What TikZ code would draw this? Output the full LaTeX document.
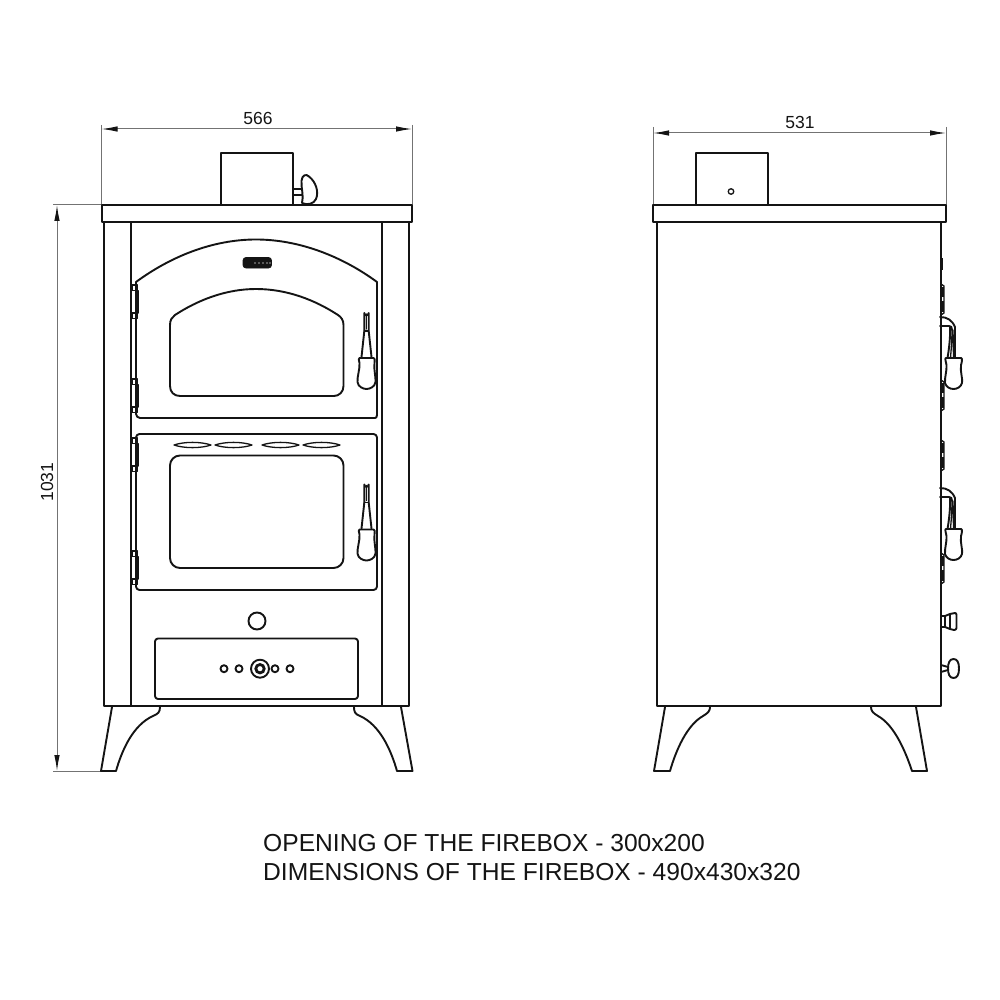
\documentclass[tikz,border=0pt]{standalone}
\usepackage{fontspec}
\setmainfont{Liberation Sans}
\usetikzlibrary{arrows.meta}
\definecolor{ink}{gray}{0.08}
\definecolor{dimc}{gray}{0.45}
\tikzset{
  ol/.style={draw=ink,line width=1.9pt,line join=round,line cap=round},
  thin ol/.style={draw=ink,line width=1.3pt,line join=round,line cap=round},
  dimline/.style={draw=dimc,line width=1pt},
  dimarrow/.style={draw=dimc,line width=1pt,{Latex[length=16pt,width=5.5pt,color=ink]}-{Latex[length=16pt,width=5.5pt,color=ink]}},
  dimtext/.style={inner sep=0pt,text=ink,font=\fontsize{17.5}{19}\selectfont},
  notetext/.style={inner sep=0pt,anchor=base west,text=ink,font=\fontsize{24.6}{27}\selectfont},
}
% handle seen from the front, origin = tip
\newcommand{\fronthandle}[2]{%
\begin{scope}[shift={(#1,#2)}]
 \draw[ol] (-2.2,2) -- (-2.2,20) -- (-5,46) (2.2,2) -- (2.2,20) -- (5,46)
   (-2.2,2) arc[start angle=180,end angle=0,radius=2.2];
 \draw[thin ol] (-2.2,20) -- (2.2,20) (0,3) -- (0,18);
 \draw[ol] (-7,47) -- (7,47) .. controls (8.5,47) and (8.5,49) .. (8,52)
   .. controls (7,58) and (9.5,66) .. (9,71) .. controls (8.5,76) and (3,78) .. (0,78)
   .. controls (-3,78) and (-8.5,76) .. (-9,71) .. controls (-9.5,66) and (-6.5,58) .. (-7,52)
   .. controls (-7.5,49) and (-8.5,47) .. (-7,47) -- cycle;
\end{scope}}
% hinge on the front view, origin = top small square
\newcommand{\fronthinge}[2]{%
\begin{scope}[shift={(#1,#2)}]
 \draw[thin ol] (-3,-3) rectangle (2.5,2.5);
 \draw[thin ol] (-3.5,2.5) rectangle (3,25);
 \draw[thin ol] (-3,25) rectangle (2.5,30.5);
\end{scope}}
% hinge on the side view
\newcommand{\sidehinge}[2]{%
\begin{scope}[shift={(#1,#2)}]
 \draw[thin ol] (941,0) -- (944,2) -- (944,29) -- (941,31);
 \draw[line width=2.6pt,draw=ink] (942.5,3) -- (942.5,13) (942.5,17) -- (942.5,28);
\end{scope}}
% handle on the side view, origin = bracket root
\newcommand{\sidehandle}[2]{%
\begin{scope}[shift={(#1,#2)}]
 \draw[ol] (-1,0) .. controls (6,0) and (11,3) .. (14,10) -- (14,41);
 \draw[ol] (-1,9) -- (8,9) .. controls (10,9) and (11,10) .. (11,13);
 \draw[ol] (9,10) .. controls (9.5,20) and (8,32) .. (6.5,41);
 \draw[thin ol] (11,13) .. controls (11,24) and (10,34) .. (9.5,41) (12,13) -- (12.5,41);
 \draw[ol] (5,41) -- (20,41) .. controls (21.5,41) and (21,45) .. (20,48)
   .. controls (19,55) and (22,62) .. (21,66) .. controls (20,70) and (16,72) .. (12.5,72)
   .. controls (9,72) and (5,70) .. (4,66) .. controls (3.5,60) and (6,54) .. (5.5,48)
   .. controls (5,45) and (3.5,41) .. (5,41) -- cycle;
\end{scope}}
\begin{document}
\begin{tikzpicture}[x=1pt,y=-1pt]
\useasboundingbox[fill=white] (0,0) rectangle (1000,1000);

%%% ---------- FRONT VIEW ----------
% dimensions
\coordinate (fw1) at (101.5,125); \coordinate (fw2) at (412,125);
\coordinate (fw1b) at (101.5,205); \coordinate (fw2b) at (412,205);
\coordinate (fa1) at (101.5,129); \coordinate (fa2) at (412,129);
\draw[dimline] (fw1) -- (fw1b) (fw2) -- (fw2b);
\draw[dimarrow] (fa1) -- (fa2);
\node[dimtext] (w566) at (258,118) {566};
\coordinate (fh1) at (53,205); \coordinate (fh1b) at (101.5,205);
\coordinate (fh2) at (53,771); \coordinate (fh2b) at (101,771);
\coordinate (fa3) at (57,205); \coordinate (fa4) at (57,771);
\draw[dimline] (fh1) -- (fh1b) (fh2) -- (fh2b);
\draw[dimarrow] (fa3) -- (fa4);
\node[dimtext,rotate=90] (h1031) at (47,482) {1031};
% flue + damper key
\draw[ol] (221,205) -- (221,153) -- (293,153) -- (293,205);
\draw[ol] (293,189) -- (302,189) (293,195) -- (302,195);
\draw[ol] (302,203) .. controls (304,196) and (301,188) .. (301.5,181)
  .. controls (302,175) and (306,173.5) .. (309,176.5) .. controls (316,182) and (319,192) .. (316,199)
  .. controls (314,204) and (307,205.5) .. (302,203);
% top plate
\draw[ol] (102,205) rectangle (412,222);
% body
\draw[ol] (104,222) -- (104,706) -- (409,706) -- (409,222);
\draw[ol] (131,222) -- (131,706) (382,222) -- (382,706);
% upper door
\draw[ol] (136,282) .. controls (170,257) and (212,239.5) .. (256,239.5)
  .. controls (300,239.5) and (343,257) .. (377,282)
  -- (377,415) .. controls (377,417) and (376,418) .. (375,418) -- (140,418)
  .. controls (138,418) and (136,416) .. (136,414) -- cycle;
\draw[ol] (170,325) .. controls (170,320) and (172,317) .. (175,315)
  .. controls (198,300) and (226,289) .. (256,289)
  .. controls (287,289) and (315,300) .. (338,315)
  .. controls (341,317) and (343.5,320) .. (343.5,325)
  -- (343.5,386) .. controls (343.5,392) and (339,396) .. (334,396)
  -- (180,396) .. controls (174,396) and (170,392) .. (170,386) -- cycle;
\draw[draw=ink,fill=ink,line width=0.8pt,rounded corners=3pt] (243,257.5) rectangle (271.5,268);
\foreach \bx in {256,260,264,268,271}{\fill[white!60!ink] (\bx-1,263) circle[radius=0.9];}
% lower door
\draw[ol,rounded corners=3.5pt] (136,434) rectangle (377,590);
\draw[ol,rounded corners=10pt] (170,455.5) rectangle (343.5,568);
\foreach \ox in {174,215,262,303}{
  \draw[thin ol] (\ox,445) .. controls (\ox+10,441.5) and (\ox+27,441.5) .. (\ox+37,445)
    .. controls (\ox+27,448.5) and (\ox+10,448.5) .. (\ox,445) -- cycle;
}
% hinges and handles
\fronthinge{135}{288}
\fronthinge{135}{382}
\fronthinge{135}{441}
\fronthinge{135}{554}
\fronthandle{366.5}{311}
\fronthandle{366.5}{482.5}
% ash drawer
\node[draw=ink,line width=1.9pt,circle,minimum size=17pt,inner sep=0pt] (knob) at (257,621) {};
\draw[ol,rounded corners=3pt] (155,638.5) rectangle (358,699);
\foreach \kx in {224,239,275,290}{\draw[ol] (\kx,668.7) circle[radius=3.5];}
\draw[ol] (260,668.7) circle[radius=9];
\draw[draw=ink,line width=2.8pt] (260,668.7) circle[radius=4.2];
% legs
\draw[ol] (112,707) -- (101,771) -- (116,771)
  .. controls (122,750) and (133,725) .. (153,716)
  .. controls (158,714) and (160,712) .. (160,707);
\draw[ol] (401,707) -- (412.5,771) -- (397,771)
  .. controls (391,750) and (380,725) .. (360,716)
  .. controls (355,714) and (354,712) .. (354,707);

%%% ---------- SIDE VIEW ----------
\coordinate (sw1) at (653,127); \coordinate (sw2) at (946,127);
\coordinate (sw1b) at (653,205); \coordinate (sw2b) at (946,205);
\coordinate (sa1) at (653,133); \coordinate (sa2) at (946,133);
\draw[dimline] (sw1) -- (sw1b) (sw2) -- (sw2b);
\draw[dimarrow] (sa1) -- (sa2);
\node[dimtext] (w531) at (800,122.5) {531};
\draw[ol] (696,205) -- (696,153) -- (768,153) -- (768,205);
\node[draw=ink,line width=1.3pt,circle,minimum size=5.5pt,inner sep=0pt] (pin) at (731,191.5) {};
\draw[ol] (653,205) rectangle (946,222);
\draw[ol] (657,222) -- (657,706) -- (941,706) -- (941,222);
% side fittings
\draw[line width=2.4pt,draw=ink] (942,258) -- (942,270);
\sidehinge{0}{284}
\sidehinge{0}{380}
\sidehinge{0}{440}
\sidehinge{0}{553}
\sidehandle{941}{317}
\sidehandle{941}{488}
% ash-door knob
\draw[ol] (941,616) -- (945,616) -- (945,627) -- (941,627);
\draw[ol] (945,616) -- (950,614) -- (955,613)
  .. controls (956,613) and (956.5,614) .. (956.5,615) -- (956.5,628)
  .. controls (956.5,629.5) and (955,630) .. (954,630)
  -- (950,629) -- (945,627);
\draw[thin ol] (950,614) -- (950,629);
% lower knob
\draw[ol] (941,665) -- (948,667) (941,672) -- (948,670);
\draw[ol] (953.5,659) .. controls (957,659) and (959,662) .. (959,668.5)
  .. controls (959,675) and (957,678) .. (953.5,678)
  .. controls (949.5,678) and (948,674) .. (948,668.5)
  .. controls (948,663) and (949.5,659) .. (953.5,659) -- cycle;
% side legs
\draw[ol] (665,707) -- (654,771) -- (670,771)
  .. controls (676,750) and (687,725) .. (703,716)
  .. controls (708,713) and (710,711) .. (710,707);
\draw[ol] (916,707) -- (927,771) -- (912,771)
  .. controls (905,750) and (894,725) .. (878,716)
  .. controls (873,713) and (871,711) .. (871,707);

%%% ---------- NOTES ----------
\node[notetext] (note1) at (263,851) {OPENING OF THE FIREBOX - 300x200};
\node[notetext] (note2) at (263,880) {DIMENSIONS OF THE FIREBOX - 490x430x320};
\end{tikzpicture}
\end{document}
